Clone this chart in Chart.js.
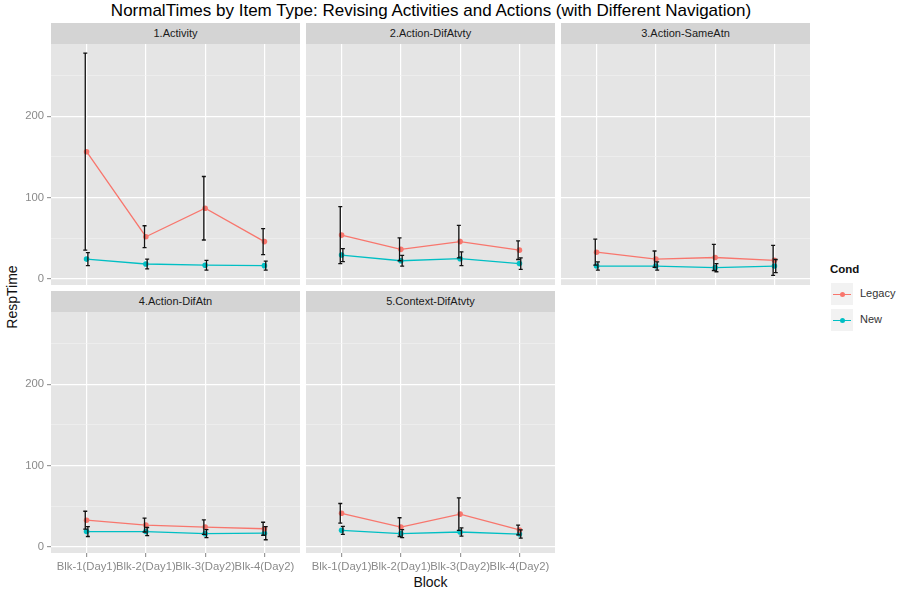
<!DOCTYPE html>
<html>
<head>
<meta charset="utf-8">
<script src="https://cdn.jsdelivr.net/npm/chart.js@4/dist/chart.umd.min.js"></script>
<style>
  body { margin: 0; background: #fff; }
  #fig { position: relative; width: 899px; height: 591px; overflow: hidden;
         font-family: "Liberation Sans", Arial, sans-serif; background: #fff; }
  .title { position: absolute; left: 0; width: 862px; top: 1px; text-align: center;
           font-size: 17px; line-height: 20px; color: #000; white-space: nowrap; }
  .strip { position: absolute; background: #D4D4D4; color: #1a1a1a; font-size: 11px;
           text-align: center; }
  .cv { position: absolute; }
  .xlab { position: absolute; left: 0; width: 861px; top: 573px; text-align: center;
          font-size: 14px; line-height: 18px; color: #111; }
  .ylab { position: absolute; left: 12px; top: 297px; font-size: 14px; color: #111;
          transform: translate(-50%, -50%) rotate(-90deg); white-space: nowrap; }
  .legtitle { position: absolute; left: 830px; top: 263px; font-size: 11.5px; font-weight: bold; color: #111; }
  .key { position: absolute; left: 830px; width: 24px; height: 24px; background: #F2F2F2;
         border: 1px solid #fff; box-sizing: border-box; }
  .key .ln { position: absolute; left: 2px; right: 2px; top: 11px; height: 1.3px; }
  .key .pt { position: absolute; left: 9px; top: 9px; width: 5px; height: 5px; border-radius: 50%; }
  .legtxt { position: absolute; left: 860px; font-size: 11px; color: #333; }
</style>
</head>
<body>
<div id="fig">
  <div class="title">NormalTimes by Item Type: Revising Activities and Actions (with Different Navigation)</div>
  <div class="ylab">RespTime</div>
  <div class="xlab">Block</div>
</div>
<script>
// Blocks on the x axis and the facet panels
const blocks = ['Blk-1(Day1)', 'Blk-2(Day1)', 'Blk-3(Day2)', 'Blk-4(Day2)'];
const itemTypes = ['1.Activity', '2.Action-DifAtvty', '3.Action-SameAtn', '4.Action-DifAtn', '5.Context-DifAtvty'];
const conds = ['Legacy', 'New'];
const condColors = ['#F8766D', '#00BFC4'];

// Mean response time per item type (rows) and block (columns)
const legacyMean = [
  [156.5, 52, 87, 46],
  [54, 36.5, 46, 35.5],
  [33, 24.5, 26.5, 23],
  [33, 27, 24.5, 22.5],
  [41.5, 24.5, 40.5, 21]
];
const legacyErr = [
  [121, 13.5, 39, 16],
  [35, 14, 20, 11.5],
  [16, 10, 16, 18.5],
  [11, 8.5, 9, 8],
  [12, 11.5, 20, 6]
];
const newMean = [
  [24.5, 18.5, 17, 16.5],
  [29.5, 22.5, 25, 19],
  [16, 16, 14, 16],
  [19, 19, 16.5, 17],
  [20.5, 16.5, 18.5, 16]
];
const newErr = [
  [8, 6, 6, 5.5],
  [8, 6.5, 8.5, 7],
  [5, 5, 5, 8],
  [6, 5, 5, 8],
  [5, 5, 5, 5]
];
const yTicks = [0, 50, 100, 150, 200, 250];

// facet geometry
const colLeft = [51, 306, 561];
const stripTop = [23, 291];
const plotTop = [44, 312];
const panelW = 249, panelH = 241;
const yMin = -7.3, yMax = 288.8;

const fig = document.getElementById('fig');

// vertical error bars with small caps, drawn from each dataset's errors
const errorBars = {
  id: 'errorBars',
  afterDatasetsDraw(chart) {
    const { ctx, scales: { x, y } } = chart;
    ctx.save();
    ctx.strokeStyle = '#111';
    ctx.lineWidth = 1.3;
    chart.data.datasets.forEach(ds => {
      ds.errors.forEach((e, k) => {
        const m = ds.data[k].y;
        const cx = x.getPixelForValue(k + ds.dodge);
        const t = y.getPixelForValue(m + e);
        const b = y.getPixelForValue(m - e);
        ctx.beginPath();
        ctx.moveTo(cx, t); ctx.lineTo(cx, b);
        ctx.moveTo(cx - 2, t); ctx.lineTo(cx + 2, t);
        ctx.moveTo(cx - 2, b); ctx.lineTo(cx + 2, b);
        ctx.stroke();
      });
    });
    ctx.restore();
  }
};

// grey panel background
const panelBg = {
  id: 'panelBg',
  beforeDraw(chart) {
    const { ctx, chartArea: a } = chart;
    ctx.save();
    ctx.fillStyle = '#E5E5E5';
    ctx.fillRect(a.left, a.top, a.right - a.left, a.bottom - a.top);
    ctx.restore();
  }
};

itemTypes.forEach((name, i) => {
  const col = i % 3, row = Math.floor(i / 3);
  const showY = col === 0;
  const showX = row === 1;
  const yw = showY ? 31 : 0;
  const xh = showX ? 26 : 0;
  const padBottom = showX ? 0 : 6;

  const strip = document.createElement('div');
  strip.className = 'strip';
  strip.style.left = colLeft[col] + 'px';
  strip.style.top = stripTop[row] + 'px';
  strip.style.width = panelW + 'px';
  strip.style.height = (plotTop[row] - stripTop[row]) + 'px';
  strip.style.lineHeight = (plotTop[row] - stripTop[row]) + 'px';
  strip.textContent = name;
  fig.appendChild(strip);

  const cv = document.createElement('canvas');
  cv.className = 'cv';
  cv.width = panelW + yw;
  cv.height = panelH + xh + padBottom;
  cv.style.left = (colLeft[col] - yw) + 'px';
  cv.style.top = plotTop[row] + 'px';
  fig.appendChild(cv);

  const series = [
    { means: legacyMean[i], errs: legacyErr[i], dodge: -0.022 },
    { means: newMean[i], errs: newErr[i], dodge: 0.022 }
  ];

  new Chart(cv, {
    type: 'line',
    data: {
      datasets: series.map((s, c) => ({
        label: conds[c],
        data: s.means.map((m, k) => ({ x: k, y: m })),
        errors: s.errs,
        dodge: s.dodge,
        borderColor: condColors[c],
        backgroundColor: condColors[c],
        borderWidth: 1.3,
        pointRadius: 2.8,
        pointBorderWidth: 0,
        tension: 0
      }))
    },
    options: {
      responsive: false,
      animation: false,
      devicePixelRatio: 1,
      layout: { padding: { top: 0, left: 0, right: 0, bottom: padBottom }, autoPadding: false },
      plugins: { legend: { display: false }, tooltip: { enabled: false } },
      scales: {
        x: {
          type: 'linear',
          min: -0.6, max: 3.6,
          afterBuildTicks: s => { s.ticks = blocks.map((_, k) => ({ value: k })); },
          afterFit: s => { s.height = xh; s.paddingLeft = 0; s.paddingRight = 0; },
          ticks: {
            display: showX,
            callback: v => blocks[v],
            color: '#8a8a8a',
            font: { family: '"Liberation Sans", Arial, sans-serif', size: 11.3 },
            padding: 3,
            maxRotation: 0, minRotation: 0, autoSkip: false
          },
          grid: { color: '#fff', lineWidth: 1.2, drawTicks: showX, tickLength: 4, tickColor: '#999' },
          border: { display: false }
        },
        y: {
          min: yMin, max: yMax,
          afterBuildTicks: s => { s.ticks = yTicks.map(v => ({ value: v })); },
          afterFit: s => { s.width = yw; s.paddingTop = 0; s.paddingBottom = 0; },
          ticks: {
            display: showY,
            callback: v => (v % 100 === 0 ? String(v) : ''),
            color: '#8a8a8a',
            font: { family: '"Liberation Sans", Arial, sans-serif', size: 11.3 },
            padding: 3
          },
          grid: {
            color: c => (c.tick && c.tick.value % 100 === 0 ? '#fff' : '#F2F2F2'),
            lineWidth: c => (c.tick && c.tick.value % 100 === 0 ? 1.2 : 0.6),
            drawTicks: showY,
            tickLength: 4,
            tickColor: c => (c.tick && c.tick.value % 100 === 0 ? '#999' : 'rgba(0,0,0,0)')
          },
          border: { display: false }
        }
      }
    },
    plugins: [panelBg, errorBars]
  });
});

// legend for the two conditions
const lt = document.createElement('div');
lt.className = 'legtitle';
lt.textContent = 'Cond';
fig.appendChild(lt);
conds.forEach((c, k) => {
  const top = 282 + k * 26;
  const key = document.createElement('div');
  key.className = 'key';
  key.style.top = top + 'px';
  const ln = document.createElement('div');
  ln.className = 'ln'; ln.style.background = condColors[k];
  const pt = document.createElement('div');
  pt.className = 'pt'; pt.style.background = condColors[k];
  key.appendChild(ln); key.appendChild(pt);
  fig.appendChild(key);
  const tx = document.createElement('div');
  tx.className = 'legtxt';
  tx.style.top = (top + 5) + 'px';
  tx.textContent = c;
  fig.appendChild(tx);
});
</script>
</body>
</html>
